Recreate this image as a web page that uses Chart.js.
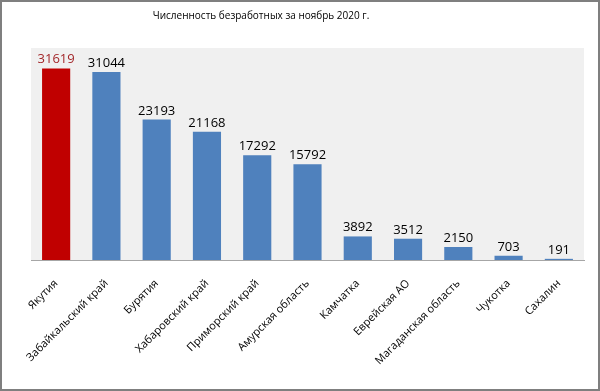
<!DOCTYPE html>
<html>
<head>
<meta charset="utf-8">
<script src="https://cdn.jsdelivr.net/npm/chart.js@4/dist/chart.umd.min.js"></script>
<style>
html,body{margin:0;padding:0;background:#fff;}
canvas{display:block;}
</style>
</head>
<body>
<canvas id="c" width="600" height="391"></canvas>
<script>
const titleText = 'Численность безработных за ноябрь 2020 г.';
const categories = ['Якутия','Забайкальский край','Бурятия','Хабаровский край','Приморский край','Амурская область','Камчатка','Еврейская АО','Магаданская область','Чукотка','Сахалин'];
const values = [31619,31044,23193,21168,17292,15792,3892,3512,2150,703,191];
const yMax = 35000;

const barColors = values.map((v,i)=> i===0 ? '#c00000' : '#4f81bd');
const labelColors = values.map((v,i)=> i===0 ? '#a3272a' : '#000000');

const decor = {
  id:'decor',
  beforeDraw(chart){
    const {ctx, chartArea:a} = chart;
    ctx.save();
    ctx.fillStyle = '#f0f0f0';
    ctx.fillRect(a.left, a.top, a.right-a.left, a.bottom-a.top);
    ctx.restore();
  },
  afterDraw(chart){
    const ctx = chart.ctx;
    ctx.save();
    // title
    ctx.fillStyle = '#000';
    ctx.font = '10px "Open Sans"';
    ctx.textAlign = 'center';
    ctx.textBaseline = 'middle';
    ctx.fillText(titleText, 261, 16);
    // data labels
    const meta = chart.getDatasetMeta(0);
    ctx.font = '13px "Open Sans"';
    ctx.textBaseline = 'alphabetic';
    meta.data.forEach((bar,i)=>{
      ctx.fillStyle = labelColors[i];
      ctx.fillText(String(values[i]), bar.x, bar.y - 5);
    });
    // frame
    ctx.strokeStyle = '#7f7f7f';
    ctx.lineWidth = 2;
    ctx.strokeRect(1,1,chart.width-2,chart.height-2);
    ctx.restore();
  }
};

new Chart(document.getElementById('c'), {
  type:'bar',
  data:{
    labels:categories,
    datasets:[{data:values, backgroundColor:barColors, barPercentage:0.56, categoryPercentage:1}]
  },
  options:{
    responsive:false,
    animation:false,
    layout:{padding:{left:31,right:16,top:48,bottom:0}},
    plugins:{legend:{display:false}, title:{display:false}, tooltip:{enabled:false}},
    scales:{
      y:{display:false, min:0, max:yMax},
      x:{
        grid:{display:false},
        border:{display:true,color:'#a6a6a6',width:1},
        ticks:{color:'#000', font:{family:'"Open Sans"', size:11}, maxRotation:45, minRotation:45, autoSkip:false, padding:9},
        afterFit(scale){ scale.height = 131; scale.paddingLeft = 0; scale.paddingRight = 0; }
      }
    }
  },
  plugins:[decor]
});
</script>
</body>
</html>
